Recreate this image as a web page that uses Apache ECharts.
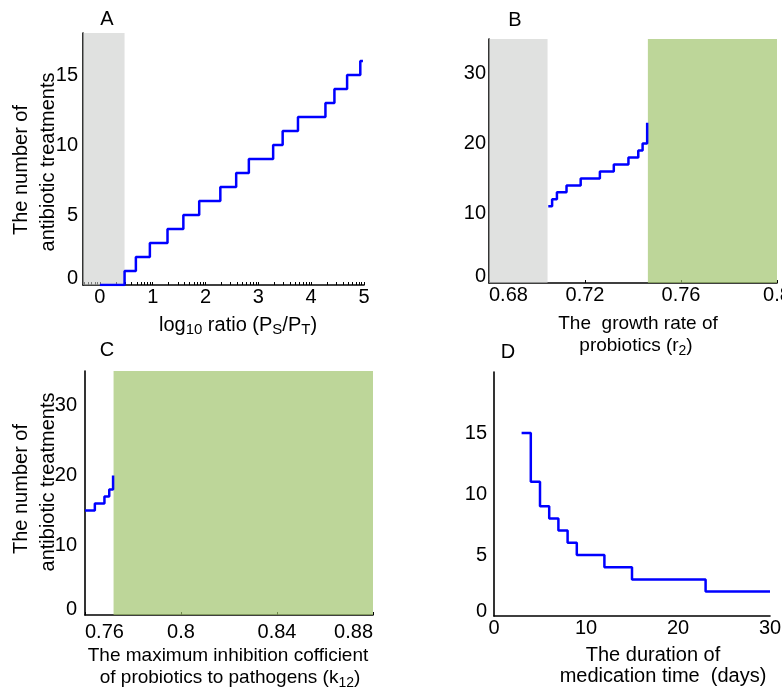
<!DOCTYPE html>
<html>
<head>
<meta charset="utf-8">
<script src="https://cdn.jsdelivr.net/npm/echarts@6/dist/echarts.min.js"></script>
<style>
html,body{margin:0;padding:0;background:#fff;}
#chart{width:782px;height:691px;}
</style>
</head>
<body>
<div id="chart"></div>
<script>
// ---------- Data ----------
// Panel A: step line, x = log10 ratio, y = number of antibiotic treatments
const xA = [0, 0.467, 0.681, 0.946, 1.28, 1.58, 1.88, 2.28, 2.58, 2.82, 3.28, 3.46, 3.75, 4.27, 4.44, 4.68, 4.93, 4.98];
const yA = [0, 1, 2, 3, 4, 5, 6, 7, 8, 9, 10, 11, 12, 13, 14, 15, 16, 16];
const grayA = [-0.32, 0.467];
const xLabelsA = [0, 1, 2, 3, 4, 5];

// Panel B: growth rate of probiotics
const xB = [0.7047, 0.7063, 0.7083, 0.7123, 0.7182, 0.7262, 0.7320, 0.7381, 0.7422, 0.7440, 0.7459];
const yB = [11, 12, 13, 14, 15, 16, 17, 18, 19, 20, 23];
const grayB = [0.68, 0.7044];
const greenB = [0.7462, 0.8];

// Panel C: maximum inhibition coefficient
const xC = [0.76, 0.7641, 0.7681, 0.7701, 0.7717];
const yC = [15, 16, 17, 18, 20];
const greenC = [0.7719, 0.88];

// Panel D: duration of medication time (days)
const xD = [3, 4, 5, 6, 7, 8, 9, 12, 15, 23, 30];
const yD = [15, 11, 9, 8, 7, 6, 5, 4, 3, 2, 2];

// log-style tick positions on panel A x-axis
const tickValuesA = [];
for (let d = -1; d <= 4; d++) {
  for (let k = 1; k <= 9; k++) {
    const v = d + Math.log10(k);
    if (v >= -0.32 && v <= 5) tickValuesA.push(+v.toFixed(4));
  }
}
tickValuesA.push(5);

// ---------- Styles ----------
const FONT = '"Liberation Sans", Arial, Helvetica, sans-serif';
const BLUE = '#0000ff';
const GRAY = 'rgba(203,205,203,0.6)';
const GREEN = 'rgba(161,196,109,0.7)';
const pairs = (xs, ys) => xs.map((x, i) => [x, ys[i]]);

function yLabelFmt(hide) {
  return function (v) {
    if (v === 0) return '{z|0}';
    if (hide && v === hide) return '';
    return String(v);
  };
}
function yRich(pad) {
  return { z: { fontSize: 20, fontFamily: FONT, color: '#000', padding: [0, 0, pad, 0] } };
}

function xAxisBase(grid, min, max, extra) {
  return Object.assign({
    type: 'value', gridIndex: grid, min: min, max: max,
    axisLine: { show: true, onZero: false, lineStyle: { color: '#000', width: 1.6 } },
    axisTick: { show: true, inside: true, length: 3, lineStyle: { color: '#000', width: 1 } },
    splitLine: { show: false }
  }, extra || {});
}
function yAxisBase(grid, max, interval, margin, hideLabel, zeroPad) {
  return {
    type: 'value', gridIndex: grid, min: 0, max: max, interval: interval,
    axisLine: { show: true, onZero: false, lineStyle: { color: '#000', width: 1.6 } },
    axisTick: { show: false },
    splitLine: { show: false },
    axisLabel: {
      fontSize: 20, fontFamily: FONT, color: '#000', margin: margin,
      showMaxLabel: false,
      formatter: yLabelFmt(hideLabel), rich: yRich(zeroPad)
    }
  };
}

const lineStyle = { color: BLUE, width: 2.5 };
function stepSeries(ax, data, z) {
  return {
    type: 'line', xAxisIndex: ax, yAxisIndex: ax, data: data, step: 'end',
    symbol: 'none', lineStyle: lineStyle, z: z, silent: true, animation: false
  };
}
function areaSeries(ax, ranges, color, z) {
  return {
    type: 'line', xAxisIndex: ax, yAxisIndex: ax, data: [], z: z, silent: true, animation: false,
    markArea: {
      silent: true, itemStyle: { color: color },
      data: ranges.map(r => [{ xAxis: r[0] }, { xAxis: r[1] }])
    }
  };
}

function txt(x, y, text, opts) {
  opts = opts || {};
  const fs = opts.fs || 20;
  const sub = opts.sub || 14;
  return {
    type: 'text', x: x, y: y, rotation: opts.rot || 0, silent: true,
    style: {
      text: text, fill: '#000', font: fs + 'px ' + FONT,
      align: 'center', verticalAlign: 'middle',
      textAlign: 'center', textVerticalAlign: 'middle',
      rich: {
        a: { fontSize: fs, fontFamily: FONT, color: '#000', lineHeight: 24 },
        s: { fontSize: sub, fontFamily: FONT, color: '#000', lineHeight: 16, verticalAlign: 'bottom' }
      }
    }
  };
}

const labelBase = { fontSize: 20, fontFamily: FONT, color: '#000' };

const option = {
  animation: false,
  backgroundColor: '#fff',
  grid: [
    { left: 83, top: 33, width: 281, height: 252, outerBoundsMode: 'none' },
    { left: 489, top: 39, width: 288, height: 244, outerBoundsMode: 'none' },
    { left: 85, top: 371, width: 288, height: 244, outerBoundsMode: 'none' },
    { left: 494, top: 372, width: 276, height: 244, outerBoundsMode: 'none' }
  ],
  xAxis: [
    xAxisBase(0, -0.32, 5, {
      axisTick: { show: true, inside: true, length: 3, customValues: tickValuesA, lineStyle: { color: '#000', width: 1 } },
      axisLabel: Object.assign({ margin: 2, customValues: xLabelsA }, labelBase)
    }),
    xAxisBase(1, 0.68, 0.8, {
      interval: 0.04,
      axisLabel: Object.assign({ margin: 2, alignMinLabel: 'left', alignMaxLabel: 'center' }, labelBase)
    }),
    xAxisBase(2, 0.76, 0.88, {
      interval: 0.04,
      axisLabel: Object.assign({ margin: 7, alignMinLabel: 'left', alignMaxLabel: 'right' }, labelBase)
    }),
    xAxisBase(3, 0, 30, {
      interval: 10,
      axisTick: { show: false },
      axisLabel: Object.assign({ margin: 2 }, labelBase)
    })
  ],
  yAxis: [
    yAxisBase(0, 18, 5, 5, 18, 14),
    yAxisBase(1, 35, 10, 3, 35, 14),
    yAxisBase(2, 35, 10, 8, 35, 12),
    yAxisBase(3, 20, 5, 7, 20, 9)
  ],
  series: [
    stepSeries(0, pairs(xA, yA), 2),
    areaSeries(0, [grayA], GRAY, 5),
    areaSeries(1, [grayB], GRAY, 1),
    areaSeries(1, [greenB], GREEN, 1),
    stepSeries(1, pairs(xB, yB), 4),
    areaSeries(2, [greenC], GREEN, 1),
    stepSeries(2, pairs(xC, yC), 4),
    stepSeries(3, pairs(xD, yD), 4)
  ],
  graphic: [
    txt(107, 19, 'A'),
    txt(515, 20, 'B'),
    txt(107, 350, 'C'),
    txt(508, 352, 'D'),
    // y-axis titles
    txt(21, 170, 'The number of', { rot: Math.PI / 2 }),
    txt(48, 162, 'antibiotic treatments', { rot: Math.PI / 2 }),
    txt(21, 489, 'The number of', { rot: Math.PI / 2 }),
    txt(48, 482, 'antibiotic treatments', { rot: Math.PI / 2 }),
    // x-axis titles
    txt(238, 325, '{a|log}{s|10}{a| ratio (P}{s|S}{a|/P}{s|T}{a|)}', { sub: 15 }),
    txt(638, 324, 'The  growth rate of', { fs: 19 }),
    txt(636, 346, '{a|probiotics (r}{s|2}{a|)}', { fs: 19 }),
    txt(228, 656, 'The maximum inhibition cofficient', { fs: 19 }),
    txt(230, 678, '{a|of probiotics to pathogens (k}{s|12}{a|)}', { fs: 19 }),
    txt(653, 655, 'The duration of'),
    txt(663, 676, 'medication time  (days)')
  ]
};

const chart = echarts.init(document.getElementById('chart'), null, { renderer: 'canvas' });
chart.setOption(option);
</script>
</body>
</html>
